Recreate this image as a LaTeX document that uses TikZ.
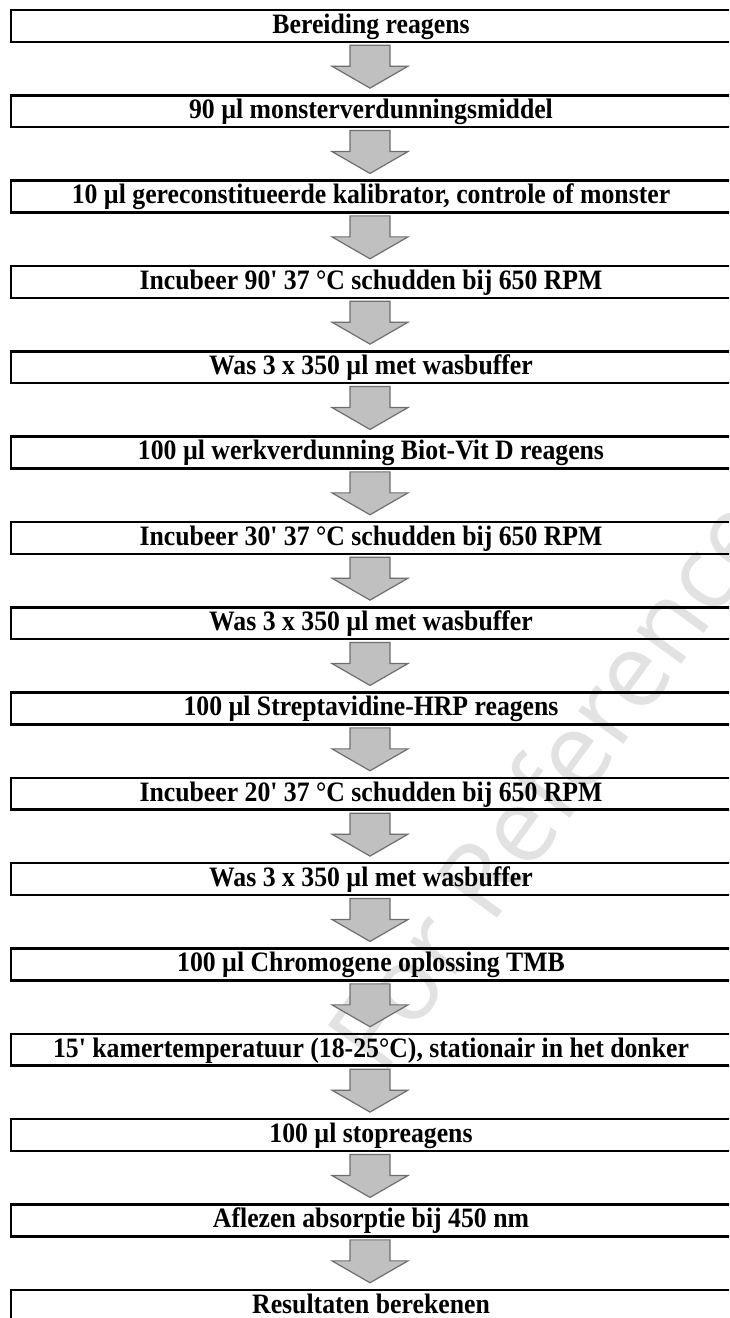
\documentclass[tikz,border=0pt]{standalone}
\usepackage{fontspec}
\usepackage{graphicx}
\newfontfamily\rf{Liberation Serif}
\newfontfamily\wmfont{Open Sans}
\usetikzlibrary{calc}
\definecolor{arrfill}{RGB}{192,192,192}
\definecolor{arrdraw}{RGB}{110,110,110}
\definecolor{wmgray}{RGB}{226,226,226}
\tikzset{
  stepbox/.style={draw=black, line width=1.8pt, rectangle, inner sep=0pt,
    minimum width=540pt, minimum height=23.8pt, text height=13.05pt, text depth=1.9pt,
    font=\rf\bfseries\fontsize{19.7pt}{22pt}\selectfont},
  flowarr/.style={draw=arrdraw, fill=arrfill, line width=0.9pt, line join=miter},
  watermark/.style={text=wmgray, font=\wmfont\fontsize{78pt}{90pt}\selectfont, inner sep=0pt}
}
\newcommand\flowarrow[2]{%
  \draw[flowarr] ($(#1.south)+(-21,2.3)$) -- ($(#1.south)+(19,2.3)$)
    -- ($(#1.south)+(19,23.3)$) -- ($(#1.south)+(37,23.3)$)
    -- ($(#2.north)+(-1,-6)$)
    -- ($(#1.south)+(-39,23.3)$) -- ($(#1.south)+(-21,23.3)$) -- cycle;}
\begin{document}
\begin{tikzpicture}[x=0.75pt, y=-0.75pt]
\useasboundingbox (0,0) rectangle (729,1318);
\clip (0,0) rectangle (729,1318);
\fill[white] (0,0) rectangle (729,1318);
\node[watermark, rotate=54] (wm) at (548,782) {For Reference};
\foreach \t [count=\i] in {
  {Bereiding reagens},
  {90 µl monsterverdunningsmiddel},
  {10 µl gereconstitueerde kalibrator, controle of monster},
  {Incubeer 90' 37 °C schudden bij 650 RPM},
  {Was 3 x 350 µl met wasbuffer},
  {100 µl werkverdunning Biot-Vit D reagens},
  {Incubeer 30' 37 °C schudden bij 650 RPM},
  {Was 3 x 350 µl met wasbuffer},
  {100 µl Streptavidine-HRP reagens},
  {Incubeer 20' 37 °C schudden bij 650 RPM},
  {Was 3 x 350 µl met wasbuffer},
  {100 µl Chromogene oplossing TMB},
  {15' kamertemperatuur (18-25°C), stationair in het donker},
  {100 µl stopreagens},
  {Aflezen absorptie bij 450 nm},
  {Resultaten berekenen}}{
  \pgfmathsetmacro\yy{10+85.33*(\i-1)+15.85}
  \node[stepbox] (b\i) at (371,\yy) {\scalebox{0.98}[1.07]{\t}};
}
\foreach \i in {1,...,15}{
  \pgfmathtruncatemacro\j{\i+1}
  \flowarrow{b\i}{b\j}
}
\end{tikzpicture}
\end{document}
